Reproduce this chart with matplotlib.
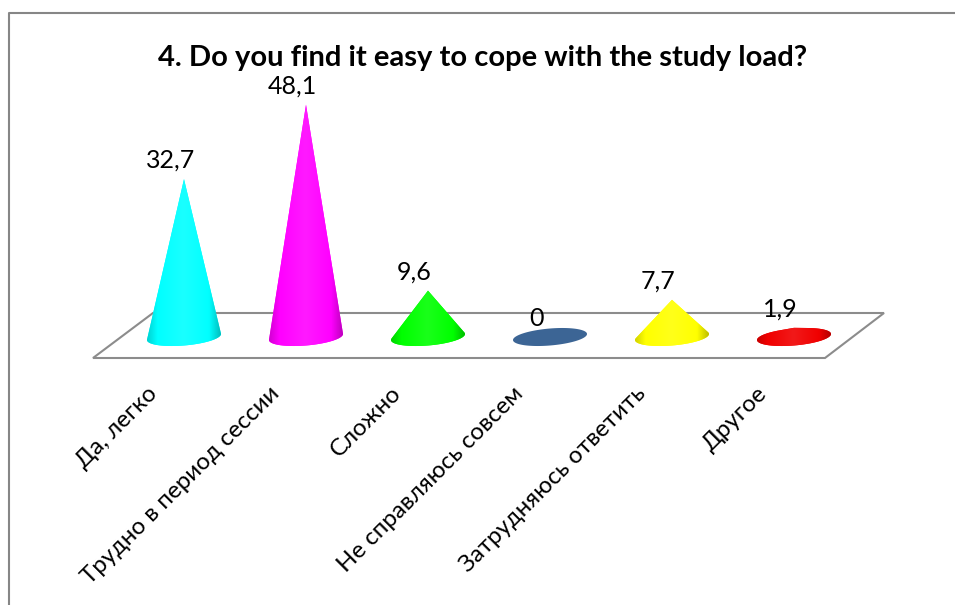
import numpy as np
import matplotlib
matplotlib.use('Agg')
import matplotlib.pyplot as plt
from matplotlib.colors import LinearSegmentedColormap, to_rgb
from matplotlib.lines import Line2D
from matplotlib.patches import Polygon

plt.rcParams['font.family'] = ['Lato', 'Open Sans', 'DejaVu Sans']

categories = ['Да, легко', 'Трудно в период сессии', 'Сложно',
              'Не справляюсь совсем', 'Затрудняюсь ответить', 'Другое']
values = [32.7, 48.1, 9.6, 0, 7.7, 1.9]
value_labels = ['32,7', '48,1', '9,6', '0', '7,7', '1,9']
colors = ['#00ffff', '#ff00ff', '#00ff00', '#3c6595', '#ffff00', '#f00000']
title = '4. Do you find it easy to cope with the study load?'

W, H = 955, 605
X0, DX = 184, 122     # pixel position of first cone, spacing
Y0, DY = 337, 4.83    # pixel position of value 0, pixels per unit


def fig_xy(x, y):
    return x / W, 1 - y / H


def hull(points):
    # monotone chain, used for the cone outline
    pts = sorted(map(tuple, points))
    def half(seq):
        out = []
        for p in seq:
            while len(out) > 1 and ((out[-1][0] - out[-2][0]) * (p[1] - out[-2][1])
                                    - (out[-1][1] - out[-2][1]) * (p[0] - out[-2][0])) <= 0:
                out.pop()
            out.append(p)
        return out[:-1]
    return half(pts) + half(pts[::-1])


fig = plt.figure(figsize=(W / 100, H / 100), dpi=100)
ax = fig.add_axes([0, 0, 1, 1])
ax.set_xlim(-X0 / DX, (W - X0) / DX)
ax.set_ylim((Y0 - H) / DY, Y0 / DY)
ax.set_autoscale_on(False)
ax.axis('off')

# outer frame, open on the right and at the bottom
fig.add_artist(Line2D(*zip(fig_xy(9, H), fig_xy(9, 13), fig_xy(W, 13)),
                      color='#868686', lw=1.5))

# floor of the 3D chart
floor = [fig_xy(93, 358), fig_xy(825, 358), fig_xy(884, 313), fig_xy(153, 313)]
ax.add_patch(Polygon(floor, closed=True, transform=fig.transFigure,
                     facecolor='white', edgecolor='#8c8c8c', lw=1.5, zorder=1))

# base ellipse size in data units
rx = 37 / DX
ry = 8.5 / DY
skew = 3 / DY


def draw_cone(i, v, color):
    t = np.linspace(0, 2 * np.pi, 241)[:-1]
    ex = i + rx * np.cos(t)
    ey = ry * np.sin(t) + skew * np.cos(t)
    rgb = np.array(to_rgb(color))
    outline = hull(list(zip(ex, ey)) + [(i, v)])
    patch = Polygon(outline, closed=True, facecolor=color, edgecolor='none', zorder=3)
    ax.add_patch(patch)
    if v == 0:
        return
    # horizontal shading: darker at the sides, bright around the middle
    dark_l, dark_r = rgb * 0.82, rgb * 0.74
    lit = rgb + (1 - rgb) * 0.10
    cmap = LinearSegmentedColormap.from_list(
        'shade', [(0, dark_l), (0.14, rgb), (0.5, lit), (0.84, rgb), (1, dark_r)])
    img = ax.imshow(np.linspace(0, 1, 256)[None, :], cmap=cmap, aspect='auto',
                    extent=(i - rx, i + rx, -ry - skew, v + ry), zorder=3)
    img.set_clip_path(patch)


for i, v in enumerate(values):
    draw_cone(i, v, colors[i])
    ax.annotate(value_labels[i], (i, v), xytext=(-10, 8), textcoords='offset points',
                ha='center', va='baseline', fontsize=18, color='black', zorder=5)
    ax.annotate(categories[i], (i, 0), xytext=(-27, -33), textcoords='offset points',
                ha='right', va='top', rotation=45, rotation_mode='anchor',
                fontsize=17.3, color='black')

fig.text(*fig_xy(483, 66), title, ha='center', va='baseline',
         fontsize=21, fontweight='bold', color='black')

fig.savefig('out.png', dpi=100)
